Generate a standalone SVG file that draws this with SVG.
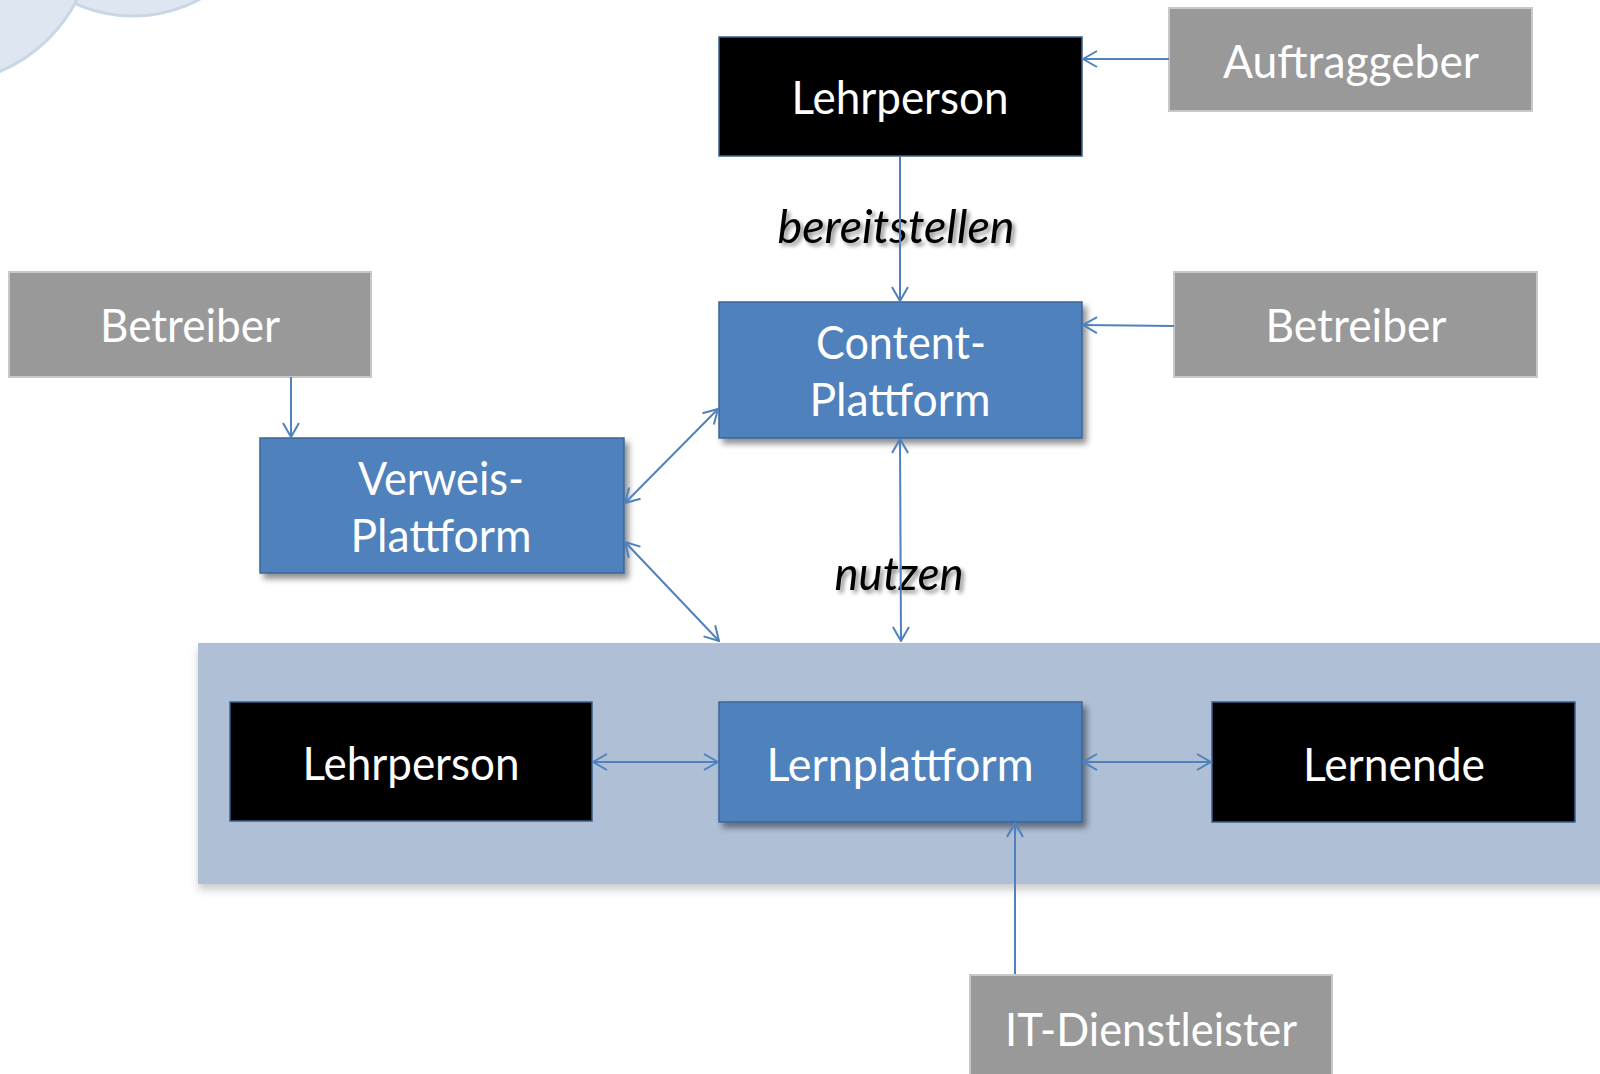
<svg xmlns="http://www.w3.org/2000/svg" width="1600" height="1074" viewBox="0 0 1600 1074">
<defs>
<style>
.t{font-family:Lato,"Open Sans","Noto Sans",sans-serif;font-size:46px;fill:#fff;text-anchor:middle}
.lbl{font-family:Lato,"Open Sans","Noto Sans",sans-serif;font-size:47px;font-style:italic;font-weight:normal;fill:#000;text-anchor:middle}
.blk{fill:#000;stroke:#3A5F8C;stroke-width:1.5}
.gry{fill:#999999;stroke:#C8C8C8;stroke-width:2}
.blu{fill:#4F81BD;stroke:#3B6596;stroke-width:1.5}
.c{fill:none;stroke:#4F81BD;stroke-width:2}
</style>
<filter id="sh" x="-10%" y="-10%" width="130%" height="140%">
<feGaussianBlur in="SourceAlpha" stdDeviation="3"/>
<feOffset dx="4" dy="5" result="b"/>
<feComponentTransfer><feFuncA type="linear" slope="0.45"/></feComponentTransfer>
<feMerge><feMergeNode/><feMergeNode in="SourceGraphic"/></feMerge>
</filter>
<filter id="shb" x="-5%" y="-10%" width="110%" height="130%">
<feGaussianBlur in="SourceAlpha" stdDeviation="4"/>
<feOffset dx="0" dy="6"/>
<feComponentTransfer><feFuncA type="linear" slope="0.2"/></feComponentTransfer>
<feMerge><feMergeNode/><feMergeNode in="SourceGraphic"/></feMerge>
</filter>
<filter id="ts" x="-10%" y="-20%" width="130%" height="150%">
<feGaussianBlur in="SourceAlpha" stdDeviation="2"/>
<feOffset dx="3" dy="3"/>
<feComponentTransfer><feFuncA type="linear" slope="0.45"/></feComponentTransfer>
<feMerge><feMergeNode/><feMergeNode in="SourceGraphic"/></feMerge>
</filter>
<marker id="ah" viewBox="0 0 16 18" refX="15" refY="9" markerWidth="16" markerHeight="18" markerUnits="userSpaceOnUse" orient="auto-start-reverse">
<path d="M1,1 L15,9 L1,17" fill="none" stroke="#4F81BD" stroke-width="2"/>
</marker>
</defs>
<rect width="1600" height="1074" fill="#fff"/>
<g id="cloud">
<circle cx="133" cy="-125" r="141" fill="#DEE7F1" stroke="#C9D6E6" stroke-width="3"/>
<circle cx="-61" cy="-71" r="155" fill="#DEE7F1" stroke="#C9D6E6" stroke-width="3"/>
</g>
<g id="band">
<rect x="198" y="643" width="1410" height="241" fill="#AEBFD6" filter="url(#shb)"/>
</g>
<g id="lehrperson-top">
<rect class="blk" x="719" y="37" width="363" height="119"/>
<text class="t" x="900" y="114" textLength="217" lengthAdjust="spacingAndGlyphs">Lehrperson</text>
</g>
<g id="auftraggeber">
<rect class="gry" x="1169" y="8" width="363" height="103"/>
<text class="t" x="1351" y="78" textLength="256" lengthAdjust="spacingAndGlyphs">Auftraggeber</text>
</g>
<g id="betreiber-left">
<rect class="gry" x="9" y="272" width="362" height="105"/>
<text class="t" x="190" y="342" textLength="180" lengthAdjust="spacingAndGlyphs">Betreiber</text>
</g>
<g id="betreiber-right">
<rect class="gry" x="1174" y="272" width="363" height="105"/>
<text class="t" x="1356" y="342" textLength="181" lengthAdjust="spacingAndGlyphs">Betreiber</text>
</g>
<g id="content-plattform">
<rect class="blu" x="719" y="302" width="363" height="136" filter="url(#sh)"/>
<text class="t" x="901" y="359" textLength="170" lengthAdjust="spacingAndGlyphs">Content-</text>
<text class="t" x="900" y="416" textLength="181" lengthAdjust="spacingAndGlyphs">Plattform</text>
</g>
<g id="verweis-plattform">
<rect class="blu" x="260" y="438" width="364" height="135" filter="url(#sh)"/>
<text class="t" x="441" y="495" textLength="166" lengthAdjust="spacingAndGlyphs">Verweis-</text>
<text class="t" x="441" y="552" textLength="181" lengthAdjust="spacingAndGlyphs">Plattform</text>
</g>
<g id="lehrperson-bottom">
<rect class="blk" x="230" y="702" width="362" height="119"/>
<text class="t" x="411" y="780" textLength="217" lengthAdjust="spacingAndGlyphs">Lehrperson</text>
</g>
<g id="lernplattform">
<rect class="blu" x="719" y="702" width="363" height="120" filter="url(#sh)"/>
<text class="t" x="900" y="781" textLength="267" lengthAdjust="spacingAndGlyphs">Lernplattform</text>
</g>
<g id="lernende">
<rect class="blk" x="1212" y="702" width="363" height="120"/>
<text class="t" x="1394" y="781" textLength="182" lengthAdjust="spacingAndGlyphs">Lernende</text>
</g>
<g id="it-dienstleister">
<rect class="gry" x="970" y="975" width="362" height="105"/>
<text class="t" x="1151" y="1046" textLength="292" lengthAdjust="spacingAndGlyphs">IT-Dienstleister</text>
</g>
<g id="connectors">
<text class="lbl" x="896" y="243" textLength="237" lengthAdjust="spacingAndGlyphs" filter="url(#ts)">bereitstellen</text>
<text class="lbl" x="899" y="590" textLength="129" lengthAdjust="spacingAndGlyphs" filter="url(#ts)">nutzen</text>
<path class="c" d="M1169,59 L1083,59" marker-end="url(#ah)"/>
<path class="c" d="M900,156 L900,301" marker-end="url(#ah)"/>
<path class="c" d="M1174,326 L1083,325" marker-end="url(#ah)"/>
<path class="c" d="M291,377 L291,437" marker-end="url(#ah)"/>
<path class="c" d="M625,503 L718,409" marker-start="url(#ah)" marker-end="url(#ah)"/>
<path class="c" d="M625,542 L719,641" marker-start="url(#ah)" marker-end="url(#ah)"/>
<path class="c" d="M900,439 L901,641" marker-start="url(#ah)" marker-end="url(#ah)"/>
<path class="c" d="M593,762 L718,762" marker-start="url(#ah)" marker-end="url(#ah)"/>
<path class="c" d="M1083,762 L1211,762" marker-start="url(#ah)" marker-end="url(#ah)"/>
<path class="c" d="M1015,974 L1015,823" marker-end="url(#ah)"/>
</g>
</svg>
